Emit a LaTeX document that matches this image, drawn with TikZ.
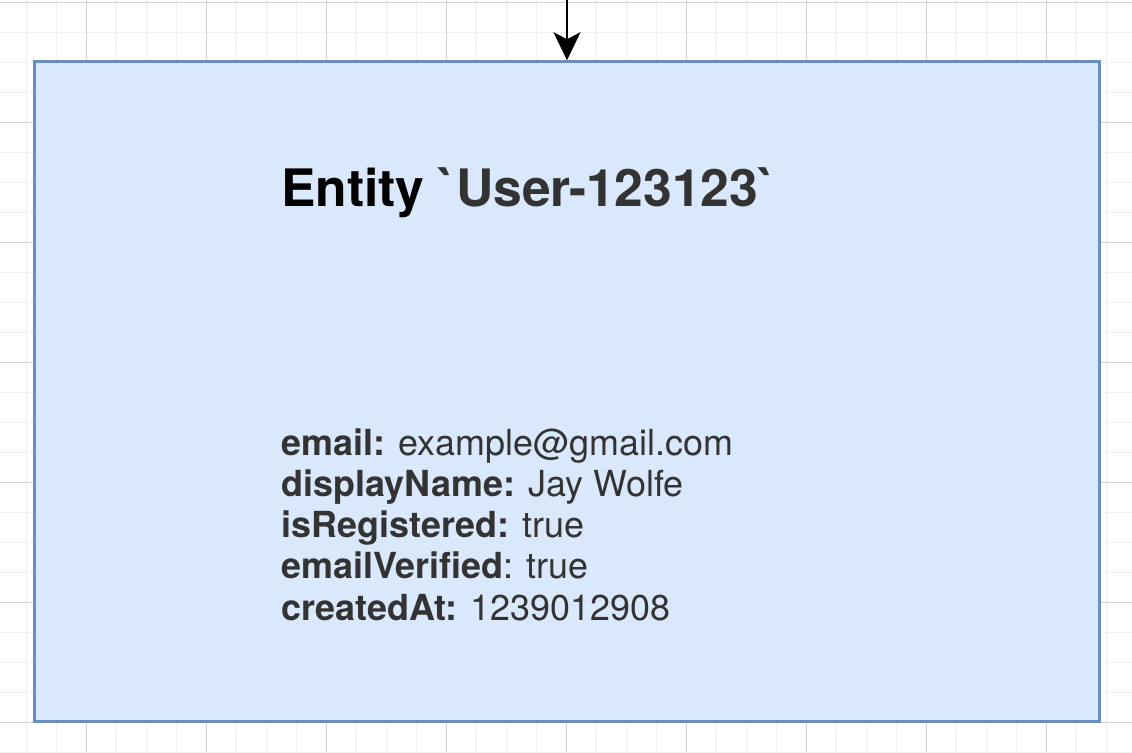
\documentclass[tikz,border=0pt]{standalone}
\usepackage{fontspec}
\setmainfont{TeX Gyre Heros}
\usetikzlibrary{arrows.meta}
\definecolor{boxfill}{HTML}{DAE8FC}
\definecolor{boxline}{HTML}{6C8EBF}
\definecolor{gridminor}{HTML}{F0F0F0}
\definecolor{gridmajor}{HTML}{D0D0D0}
\definecolor{txtgray}{HTML}{333333}
\tikzset{
  entitybox/.style={draw=boxline, fill=boxfill, line width=2.5pt, inner sep=0pt,
    minimum width=1065pt, minimum height=660pt},
  title/.style={anchor=base west, inner sep=0pt, font=\fontsize{51.6}{60}\selectfont\bfseries},
  attr/.style={anchor=base west, inner sep=0pt, text=txtgray, font=\fontsize{35.9}{40}\selectfont},
}
\begin{document}
\begin{tikzpicture}[x=1pt,y=-1pt]
      \useasboundingbox (0,0) rectangle (1132,752);
      \fill[white] (0,0) rectangle (1132,752);
      % grid
      \foreach \x in {-3.5,26.5,...,1140} \draw[gridminor,line width=1.5pt] (\x,0) -- (\x,752);
      \foreach \y in {2.5,32.5,...,760} \draw[gridminor,line width=1.5pt] (0,\y) -- (1132,\y);
      \foreach \x in {86.5,206.5,...,1140} \draw[gridmajor,line width=1pt] (\x,0) -- (\x,752);
      \foreach \y in {2.5,122.5,...,760} \draw[gridmajor,line width=1pt] (0,\y) -- (1132,\y);
      % entity
      \node[entitybox] (entity) at (567,391.5) {};
      \coordinate (in) at (567,-2);
      \draw[line width=2pt,-{Stealth[length=28pt,width=27pt,inset=7pt]}] (in) -- (entity.north);
      \node[title] (name) at (281,206.5) {Entity \textcolor{txtgray}{\textasciigrave User-123123\textasciigrave}};
      \node[attr] (email) at (281.5,455) {\textbf{email:} example@gmail.com};
      \node[attr] (display) at (281.5,496.3) {\textbf{displayName:} Jay Wolfe};
      \node[attr] (registered) at (281.5,537.6) {\textbf{isRegistered:} true};
      \node[attr] (verified) at (281.5,578.9) {\textbf{emailVerified}: true};
      \node[attr] (created) at (281.5,620.2) {\textbf{createdAt:} 1239012908};
    \end{tikzpicture}
\end{document}
